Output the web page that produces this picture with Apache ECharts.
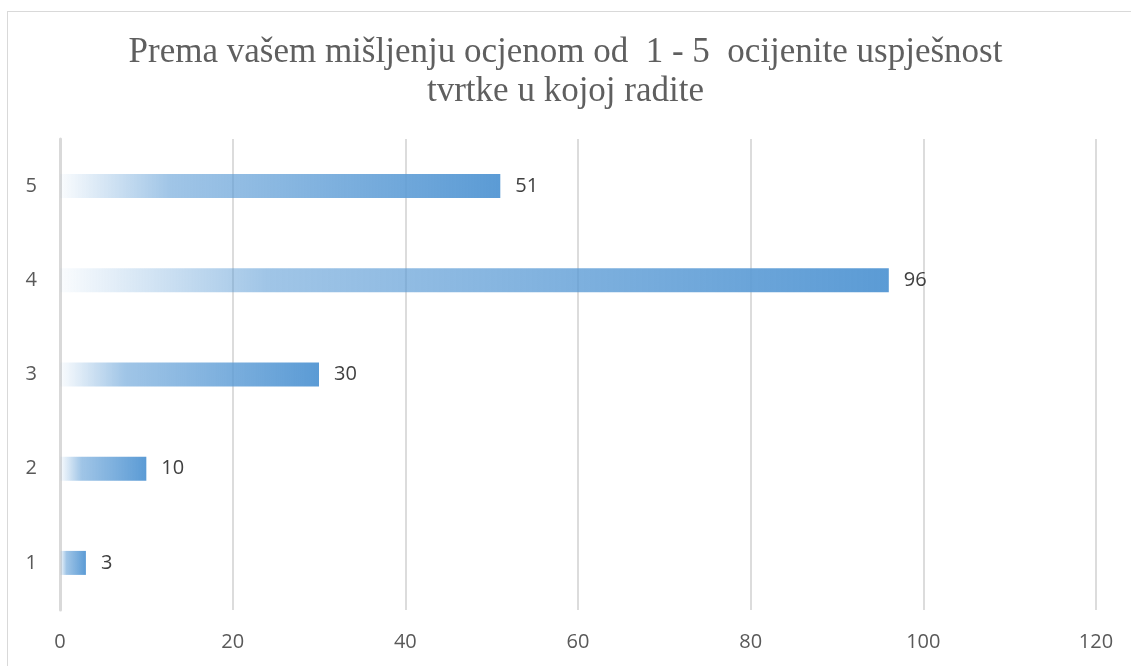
<!DOCTYPE html>
<html>
<head>
<meta charset="utf-8">
<script src="https://cdn.jsdelivr.net/npm/echarts@6/dist/echarts.min.js"></script>
<style>
html,body{margin:0;padding:0;background:#fff;}
#frame{position:absolute;left:7px;top:11px;width:1140px;height:670px;border:1px solid #d9d9d9;box-sizing:border-box;}
#chart{position:absolute;left:0;top:0;width:1131px;height:666px;}
</style>
</head>
<body>
<div id="frame"></div>
<div id="chart"></div>
<script>
const titleText = 'Prema vašem mišljenju ocjenom od  1 - 5  ocijenite uspješnost\ntvrtke u kojoj radite';
const categories = ['1', '2', '3', '4', '5'];
const values = [3, 10, 30, 96, 51];
const xTicks = [0, 20, 40, 60, 80, 100, 120];

const chart = echarts.init(document.getElementById('chart'), null, {renderer: 'canvas'});
chart.setOption({
  backgroundColor: 'transparent',
  animation: false,
  title: {
    text: titleText,
    left: 'center',
    top: 28,
    textStyle: {
      fontFamily: 'Liberation Serif',
      fontSize: 35,
      fontWeight: 'normal',
      color: '#5f5f5f',
      lineHeight: 39
    }
  },
  grid: {left: 60, right: 35, top: 139, bottom: 56, containLabel: false},
  xAxis: {
    type: 'value',
    min: xTicks[0],
    max: xTicks[xTicks.length - 1],
    interval: 20,
    axisLine: {show: false},
    axisTick: {show: false},
    splitLine: {show: true, lineStyle: {color: '#d0d0d0', width: 1.5}},
    axisLabel: {
      margin: 22,
      fontFamily: 'Open Sans',
      fontSize: 20,
      color: '#595959'
    }
  },
  yAxis: {
    type: 'category',
    data: categories,
    axisLine: {show: true, lineStyle: {color: '#d9d9d9', width: 3}},
    axisTick: {show: false},
    axisLabel: {
      margin: 23,
      fontFamily: 'Open Sans',
      fontSize: 20,
      color: '#595959'
    }
  },
  series: [{
    type: 'bar',
    data: values,
    barWidth: 24,
    itemStyle: {
      color: {
        type: 'linear', x: 0, y: 0, x2: 1, y2: 0,
        colorStops: [
          {offset: 0, color: 'rgba(91,155,213,0.03)'},
          {offset: 0.25, color: 'rgba(91,155,213,0.58)'},
          {offset: 1, color: 'rgba(91,155,213,1)'}
        ]
      }
    },
    label: {
      show: true,
      position: 'right',
      distance: 15,
      fontFamily: 'Open Sans',
      fontSize: 20,
      color: '#404040'
    }
  }]
});
</script>
</body>
</html>
